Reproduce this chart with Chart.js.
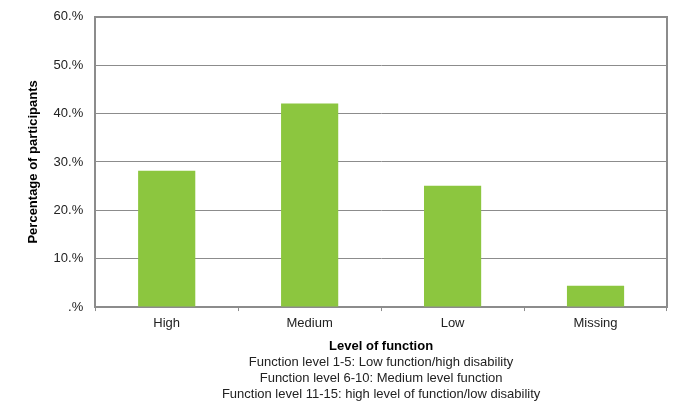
<!DOCTYPE html>
<html>
<head>
<meta charset="utf-8">
<script src="https://cdn.jsdelivr.net/npm/chart.js@4/dist/chart.umd.min.js"></script>
<style>
  html, body { margin: 0; padding: 0; background: #fff; }
  #wrap { width: 675px; height: 405px; }
</style>
</head>
<body>
<div id="wrap"><canvas id="chart"></canvas></div>
<script>
// valores
const categories = ['High', 'Medium', 'Low', 'Missing'];
const percentages = [28.2, 42.1, 25.1, 4.4];
const yTicks = [0, 10, 20, 30, 40, 50, 60];
const xTitle = 'Level of function';
const notes = [
    'Function level 1-5: Low function/high disability',
    'Function level 6-10: Medium level function',
    'Function level 11-15: high level of function/low disability'
];

const txt = '#222';
const gridGray = '#8c8c8c';
Chart.defaults.font.family = '"Liberation Sans", Arial, sans-serif';
Chart.defaults.color = txt;

new Chart(document.getElementById('chart'), {
    type: 'bar',
    data: {
        labels: categories,
        datasets: [{
            label: 'Percentage of participants',
            data: percentages,
            backgroundColor: '#8CC63F',
            borderWidth: 0,
            barPercentage: 0.4,
            categoryPercentage: 1
        }]
    },
    options: {
        responsive: true,
        maintainAspectRatio: false,
        animation: false,
        layout: { padding: { top: 4, right: 8, left: 26, bottom: 2 } },
        plugins: {
            legend: { display: false },
            tooltip: { enabled: false },
            title: {
                display: true,
                position: 'bottom',
                fullSize: false,
                text: notes,
                font: { size: 13, weight: 'normal', lineHeight: 1.25 },
                color: txt,
                padding: { top: 0, bottom: 0 }
            }
        },
        scales: {
            x: {
                offset: true,
                grid: {
                    display: true,
                    drawOnChartArea: false,
                    offset: true,
                    tickLength: 4,
                    color: gridGray
                },
                border: { color: gridGray, width: 2 },
                ticks: { font: { size: 13 }, color: txt, padding: 5 },
                title: {
                    display: true,
                    text: xTitle,
                    font: { size: 13, weight: 'bold' },
                    color: '#000',
                    padding: { top: 2, bottom: 0 }
                }
            },
            y: {
                min: 0,
                max: 60,
                afterBuildTicks: axis => { axis.ticks = yTicks.map(v => ({ value: v })); },
                grid: {
                    color: gridGray,
                    lineWidth: ctx => (ctx.tick && ctx.tick.value === 60 ? 2 : 1),
                    drawTicks: true,
                    tickLength: 3,
                    tickColor: 'rgba(0,0,0,0)'
                },
                border: { color: gridGray, width: 2 },
                ticks: {
                    font: { size: 13 },
                    color: txt,
                    padding: 9,
                    callback: v => (v === 0 ? '.%' : v + '.%')
                },
                title: {
                    display: true,
                    text: 'Percentage of participants',
                    font: { size: 13, weight: 'bold' },
                    color: '#000',
                    padding: { top: 0, bottom: 3 }
                }
            },
            yRight: {
                position: 'right',
                min: 0,
                max: 60,
                grid: { display: false, drawTicks: false },
                ticks: { display: false },
                border: { color: gridGray, width: 2 }
            }
        }
    }
});
</script>
</body>
</html>
